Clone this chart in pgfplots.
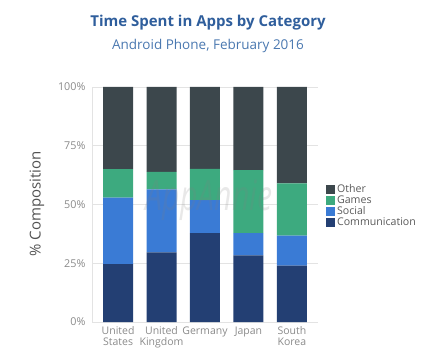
\documentclass[border=0pt]{standalone}
\usepackage{fontspec}
\setmainfont{Open Sans}
\usepackage{pgfplots}
\pgfplotsset{compat=1.18}
\definecolor{cComm}{HTML}{233F73}
\definecolor{cSocial}{HTML}{3A7BD5}
\definecolor{cGames}{HTML}{3DAA7F}
\definecolor{cOther}{HTML}{3C474C}
\definecolor{titleblue}{HTML}{2F5E9C}
\definecolor{subblue}{HTML}{4A78B0}
\definecolor{ticktxt}{HTML}{8A8A8A}
\definecolor{gridc}{HTML}{E3E3E3}
\begin{document}
\begin{tikzpicture}
\useasboundingbox (0pt,0pt) rectangle (425pt,351pt);
\node[font=\fontsize{15}{17}\selectfont\bfseries, text=titleblue] at (208pt,328pt) {Time Spent in Apps by Category};
\node[font=\fontsize{13.5}{15}\selectfont, text=subblue] at (208pt,305pt) {Android Phone, February 2016};
\node[rotate=90, font=\fontsize{15}{17}\selectfont, text=black!68] at (37pt,147pt) {\% Composition};
\begin{axis}[
  at={(92pt,29pt)}, anchor=south west,
  scale only axis, width=226pt, height=235pt,
  ybar stacked, bar width=30pt,
  xmin=-0.6, xmax=4.6, ymin=0, ymax=100,
  xtick={0,1,2,3,4},
  xticklabels={United\\States, United\\Kingdom, Germany, Japan, South\\Korea},
  xticklabel style={align=center, font=\fontsize{10.5}{11.3}\selectfont, text=ticktxt, yshift=-1pt},
  ytick={0,25,50,75,100},
  yticklabels={0\%,25\%,50\%,75\%,100\%},
  yticklabel style={font=\fontsize{10.8}{12}\selectfont, text=ticktxt, xshift=-3pt},
  /pgf/number format/assume math mode=true,
  ymajorgrids, grid style={gridc, line width=0.8pt},
  axis x line*=bottom, axis y line*=left,
  axis line style={gridc, line width=0.8pt},
  major tick length=0pt,
  every axis plot/.append style={draw=none},
  legend style={at={(1.035,0.595)}, anchor=north west, draw=none, fill=none,
    inner sep=0pt, font=\fontsize{10.6}{11}\selectfont, text=black!65, row sep=-2.2pt,
    legend cell align=left},
  legend image code/.code={\fill[#1] (0pt,-4.5pt) rectangle (9pt,4.5pt);},
  reverse legend,
]
\addplot[fill=cComm] coordinates {(0,24.6) (1,29.6) (2,37.8) (3,28.3) (4,24.0)};
\addplot[fill=cSocial] coordinates {(0,28.3) (1,26.8) (2,14.1) (3,9.5) (4,12.8)};
\addplot[fill=cGames] coordinates {(0,12.2) (1,7.5) (2,13.3) (3,26.8) (4,22.2)};
\addplot[fill=cOther] coordinates {(0,34.9) (1,36.1) (2,34.8) (3,35.4) (4,41.0)};
\legend{Communication, Social, Games, Other}
\end{axis}
\node[font=\fontsize{42}{44}\selectfont\itshape, text=gray, opacity=0.18, xscale=0.72] at (209pt,151pt) {AppAnnie};
\end{tikzpicture}
\end{document}
